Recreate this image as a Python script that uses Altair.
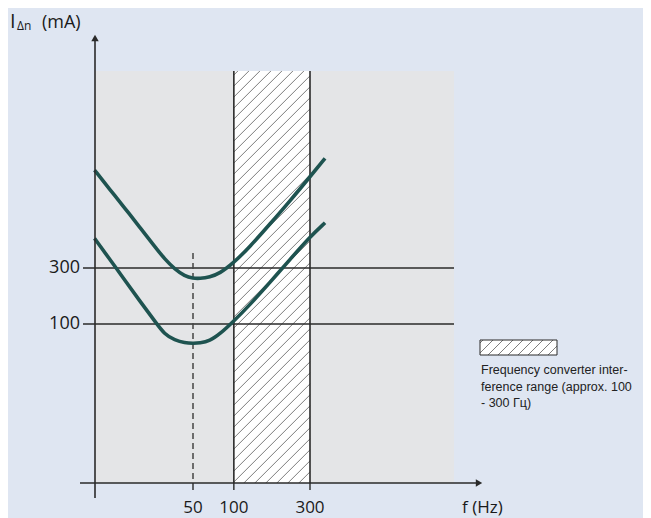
import altair as alt
import pandas as pd
import numpy as np

# ---- values ----
freq_hz = [5.85, 8.6, 12.4, 17.3, 23.9, 29.2, 35.6, 43, 50, 56.4, 67.2, 79.5, 98.4, 128, 173, 229, 300, 364]
upper_ma = [2050, 1412, 973, 670, 457, 358, 294, 256, 245, 244, 251, 270, 327, 453, 711, 1116, 1797, 2579]
lower_ma = [537, 358, 237, 158, 106, 81.3, 73.0, 69.1, 68.4, 68.8, 71.6, 82.1, 104, 145, 226, 354, 554, 729]
x_ticks = [50, 100, 300]
y_ticks = [100, 300]
band_hz = [100, 300]
dashed_hz = 50
legend_lines = ["Frequency converter inter-", "ference range (approx. 100", "- 300 Гц)"]

# ---- style / layout ----
W, H = 635, 510
P = 0.18
BG = "#dfe6f2"
PANEL = "#e4e5e7"
INK = "#2a2a2a"
CURVE = "#1e5350"
HATCH = "#6e6e6e"
FONT = "Open Sans"

XS = alt.Scale(type="pow", exponent=P, domain=[50, 300], range=[185, 302], nice=False, zero=False)
YS = alt.Scale(type="log", domain=[100, 300], range=[316, 260], nice=False, zero=False)


def fx(f):
    return 185 + 117 * (f ** P - 50 ** P) / (300 ** P - 50 ** P)


def inv_x(px):
    return (50 ** P + (px - 185) * (300 ** P - 50 ** P) / 117) ** (1 / P)


def inv_y(py):
    return 100 * 3 ** ((316 - py) / 56)


AX_X = 87      # y-axis position (px)
AX_Y = 475     # x-axis position (px)
PANEL_R = 446
PANEL_T = 63

F_AX = inv_x(AX_X)
I_AX = inv_y(AX_Y)
F_PR = inv_x(PANEL_R)
I_PT = inv_y(PANEL_T)


def enc(ch):
    return ch.encode(
        x=alt.X("x1:Q", scale=XS, axis=None),
        x2="x2:Q",
        y=alt.Y("y1:Q", scale=YS, axis=None),
        y2="y2:Q",
    )


def rules(rows, **kw):
    df = pd.DataFrame(rows, columns=["x1", "y1", "x2", "y2"])
    return enc(alt.Chart(df).mark_rule(**kw))


def rect(rows, **kw):
    df = pd.DataFrame(rows, columns=["x1", "y1", "x2", "y2"])
    return enc(alt.Chart(df).mark_rect(**kw))


def hatch(X0, X1, Y0, Y1, step=11.0, offset=4.0):
    segs = []
    for k in np.arange(X0 + Y0 + offset, X1 + Y1, step):
        xa = max(X0, k - Y1)
        xb = min(X1, k - Y0)
        if xb > xa:
            segs.append((inv_x(xa), inv_y(k - xa), inv_x(xb), inv_y(k - xb)))
    return segs


def text_layer(rows, **kw):
    df = pd.DataFrame(rows, columns=["x", "y", "t"])
    return alt.Chart(df).mark_text(**kw).encode(
        x=alt.X("x:Q", scale=XS, axis=None),
        y=alt.Y("y:Q", scale=YS, axis=None),
        text="t:N",
    )


layers = []
# grey panel
layers.append(rect([(F_AX, I_AX, F_PR, I_PT)], color=PANEL))
# hatched band
layers.append(rect([(band_hz[0], I_AX, band_hz[1], I_PT)], color="white"))
layers.append(rules(hatch(fx(band_hz[0]), fx(band_hz[1]), PANEL_T, AX_Y), color=HATCH, strokeWidth=0.9))
layers.append(rules([(f, I_AX, f, I_PT) for f in band_hz], color=INK, strokeWidth=1.6))
# horizontal reference lines
layers.append(rules([(inv_x(75), v, F_PR, v) for v in y_ticks], color=INK, strokeWidth=1.4))
# dashed 50 Hz line
layers.append(rules([(dashed_hz, inv_y(245), dashed_hz, I_AX)], color="#444444", strokeWidth=1.5, strokeDash=[6, 4]))

# curves
curve_df = pd.DataFrame({
    "f": freq_hz * 2,
    "I": upper_ma + lower_ma,
    "s": ["upper"] * len(freq_hz) + ["lower"] * len(freq_hz),
})
layers.append(
    alt.Chart(curve_df).mark_line(color=CURVE, strokeWidth=3.6, interpolate="basis").encode(
        x=alt.X("f:Q", scale=XS, axis=None),
        y=alt.Y("I:Q", scale=YS, axis=None),
        detail="s:N",
    )
)

# axes
layers.append(rules([(F_AX, inv_y(490), F_AX, inv_y(32)), (inv_x(72), I_AX, inv_x(470), I_AX)], color=INK, strokeWidth=1.6))
layers.append(rules([(f, I_AX, f, inv_y(482)) for f in x_ticks], color=INK, strokeWidth=1.4))
arrow_up = pd.DataFrame({"x": [F_AX], "y": [inv_y(30)]})
layers.append(
    alt.Chart(arrow_up).mark_point(shape="triangle-up", filled=True, size=55, color=INK, opacity=1).encode(
        x=alt.X("x:Q", scale=XS, axis=None), y=alt.Y("y:Q", scale=YS, axis=None)
    )
)
arrow_right = pd.DataFrame({"x": [inv_x(471)], "y": [I_AX]})
layers.append(
    alt.Chart(arrow_right).mark_point(shape="triangle-right", filled=True, size=55, color=INK, opacity=1).encode(
        x=alt.X("x:Q", scale=XS, axis=None), y=alt.Y("y:Q", scale=YS, axis=None)
    )
)

# tick labels
layers.append(text_layer([(inv_x(72), v, str(v)) for v in y_ticks], align="right", baseline="middle",
                         font=FONT, fontSize=18, color="#1a1a1a"))
layers.append(text_layer([(f, inv_y(505), str(f)) for f in x_ticks], align="center", baseline="alphabetic",
                         font=FONT, fontSize=17, color="#1a1a1a"))
# axis titles
layers.append(text_layer([(inv_x(454), inv_y(505), "f (Hz)")], align="left", baseline="alphabetic",
                         font=FONT, fontSize=17, color="#1a1a1a"))
layers.append(text_layer([(inv_x(2), inv_y(20), "I")], align="left", baseline="alphabetic",
                         font=FONT, fontSize=20, color="#1a1a1a"))
layers.append(text_layer([(inv_x(9), inv_y(22), "Δn")], align="left", baseline="alphabetic",
                         font=FONT, fontSize=12, color="#1a1a1a"))
layers.append(text_layer([(inv_x(34), inv_y(20), "(mA)")], align="left", baseline="alphabetic",
                         font=FONT, fontSize=18, color="#1a1a1a"))

# legend
LX0, LX1, LY0, LY1 = 472, 549, 332, 347
layers.append(rect([(inv_x(LX0), inv_y(LY1), inv_x(LX1), inv_y(LY0))], color="white"))
layers.append(rules(hatch(LX0, LX1, LY0, LY1, step=10.0, offset=3.0), color=HATCH, strokeWidth=0.9))
layers.append(rect([(inv_x(LX0), inv_y(LY1), inv_x(LX1), inv_y(LY0))], fill=None, fillOpacity=0,
                   stroke=INK, strokeWidth=1.0))
layers.append(text_layer([(inv_x(473), inv_y(362 + 16.5 * i), t) for i, t in enumerate(legend_lines)],
                         align="left", baseline="middle", font="Liberation Sans", fontSize=12.5,
                         color="#222222"))

chart = alt.layer(*layers).properties(
    width=W, height=H, padding=0, autosize=alt.AutoSizeParams(type="none"), background=BG
).configure_view(stroke=None)

chart.save("out.html", embed_options={"renderer": "svg", "actions": False})
